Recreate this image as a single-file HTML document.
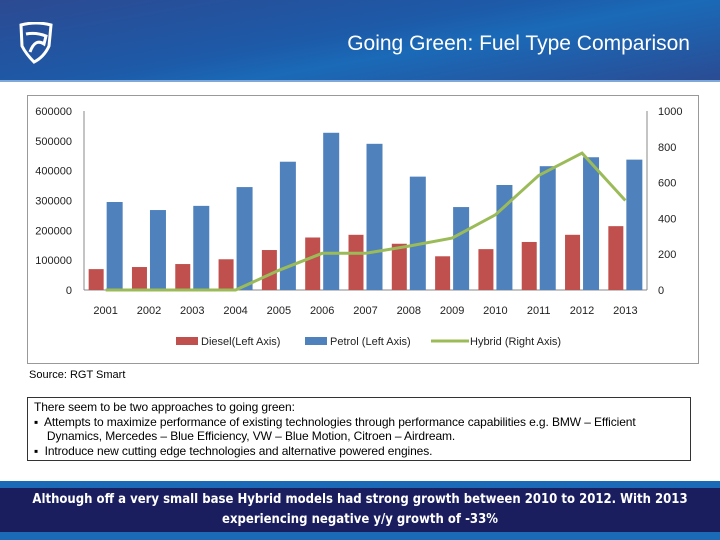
<!DOCTYPE html>
<html><head><meta charset="utf-8"><style>
body{margin:0;width:720px;height:540px;overflow:hidden;background:#fff;font-family:"Liberation Sans",sans-serif;position:relative}
.hdr{position:absolute;left:0;top:0;width:720px;height:80px;background:linear-gradient(170deg,#2c4a92 0%,#1d5aa8 45%,#1a6ab8 60%,#2a4c94 100%)}
.hdr2{position:absolute;left:0;top:80px;width:720px;height:2px;background:#7fa7d8}
.title{position:absolute;right:30px;top:32px;color:#fff;font-size:21px}
.chartbox{position:absolute;left:27px;top:95px;width:670px;height:267px;border:1px solid #999}
.src{position:absolute;left:29px;top:369px;font-size:11px;color:#000}
.tbox{position:absolute;left:27px;top:397px;width:664px;height:64px;border:1px solid #333;font-size:12px;line-height:14.5px;padding:2px 6px;box-sizing:border-box;letter-spacing:-0.1px}
.tbox div{white-space:nowrap}
.band{position:absolute;left:0;top:481px;width:720px;height:59px;background:#1a6ab8}
.band2{position:absolute;left:0;top:488px;width:720px;height:44px;background:#1a1e5e;color:#fff;font-family:"DejaVu Sans Condensed","Liberation Sans",sans-serif;font-weight:bold;font-size:13px;text-align:center;line-height:20px;padding-top:2px;box-sizing:border-box}
</style></head><body>
<div class="hdr"></div>
<div class="hdr2"></div>
<svg style="position:absolute;left:18px;top:22px" width="36" height="42"><path d="M3 3 Q18 -1 33 3 L31 24 Q26 35 16 40 Q8 32 4 24 Z" fill="none" stroke="#fff" stroke-width="3"/><path d="M8 12 Q18 10 28 14 L26 22 Q17 16 12 30" fill="none" stroke="#fff" stroke-width="3"/></svg>
<div class="title">Going Green: Fuel Type Comparison</div>
<div class="chartbox"></div>
<svg id="chart" style="position:absolute;left:0;top:0" width="720" height="370"></svg>
<div class="src">Source: RGT Smart</div>
<div class="tbox">
<div>There seem to be two approaches to going green:</div>
<div>▪&nbsp; Attempts to maximize performance of existing technologies through performance capabilities e.g. BMW – Efficient</div>
<div>&nbsp;&nbsp;&nbsp; Dynamics, Mercedes – Blue Efficiency, VW – Blue Motion, Citroen – Airdream.</div>
<div>▪&nbsp; Introduce new cutting edge technologies and alternative powered engines.</div>
</div>
<div class="band"></div>
<div class="band2">Although off a very small base Hybrid models had strong growth between 2010 to 2012. With 2013<br>experiencing negative y/y growth of -33%</div>
<script>
const years=["2001","2002","2003","2004","2005","2006","2007","2008","2009","2010","2011","2012","2013"];
const diesel=[70000,77000,87000,103000,134000,176000,185000,155000,113000,137000,161000,185000,214000];
const petrol=[295000,268000,282000,345000,430000,527000,490000,380000,278000,352000,415000,445000,437000];
const hybrid=[0,0,0,0,110,205,205,245,290,420,640,765,500];
const leftTicks=[0,100000,200000,300000,400000,500000,600000];
const rightTicks=[0,200,400,600,800,1000];
const svg=document.getElementById('chart');const NS='http://www.w3.org/2000/svg';
const X0=84,X1=647,Y0=290,Y1=111,bw=(X1-X0)/years.length;
const yL=v=>Y0-(v/600000)*(Y0-Y1), yR=v=>Y0-(v/1000)*(Y0-Y1), xc=i=>X0+bw*(i+0.5);
function mk(t,a){const e=document.createElementNS(NS,t);for(const k in a)e.setAttribute(k,a[k]);svg.appendChild(e);return e;}
let e;
e=mk('line',{x1:X0,y1:Y1,x2:X0,y2:Y0,stroke:'#888'});
e=mk('line',{x1:X1,y1:Y1,x2:X1,y2:Y0,stroke:'#888'});
e=mk('line',{x1:X0,y1:Y0,x2:X1,y2:Y0,stroke:'#888'});
leftTicks.forEach(v=>{const t=mk('text',{x:X0-12,y:yL(v)+4,'text-anchor':'end','font-size':11,fill:'#222'});t.textContent=v;
});
rightTicks.forEach(v=>{const t=mk('text',{x:X1+11,y:yR(v)+4,'font-size':11,fill:'#222'});t.textContent=v;
});
years.forEach((y,i)=>{
const d=mk('rect',{x:xc(i)-17,y:yL(diesel[i]),width:15,height:Y0-yL(diesel[i]),fill:'#c0504d'});

const p=mk('rect',{x:xc(i)+1,y:yL(petrol[i]),width:16,height:Y0-yL(petrol[i]),fill:'#4f81bd'});

const t=mk('text',{x:xc(i),y:314,'text-anchor':'middle','font-size':11,fill:'#222'});t.textContent=y;
});
const ln=mk('polyline',{points:hybrid.map((v,i)=>xc(i)+','+yR(v)).join(' '),fill:'none',stroke:'#9bbb59','stroke-width':3});

function leg(x,kind,col,label){let s;
if(kind==='r')s=mk('rect',{x:x,y:337,width:22,height:8,fill:col});else s=mk('line',{x1:x,y1:341,x2:x+38,y2:341,stroke:col,'stroke-width':3});

const t=mk('text',{x:x+(kind==='r'?25:39),y:345,'font-size':11,fill:'#222'});t.textContent=label;
}
leg(176,'r','#c0504d','Diesel(Left Axis)');leg(305,'r','#4f81bd','Petrol (Left Axis)');leg(431,'l','#9bbb59','Hybrid (Right Axis)');
</script>
</body></html>
